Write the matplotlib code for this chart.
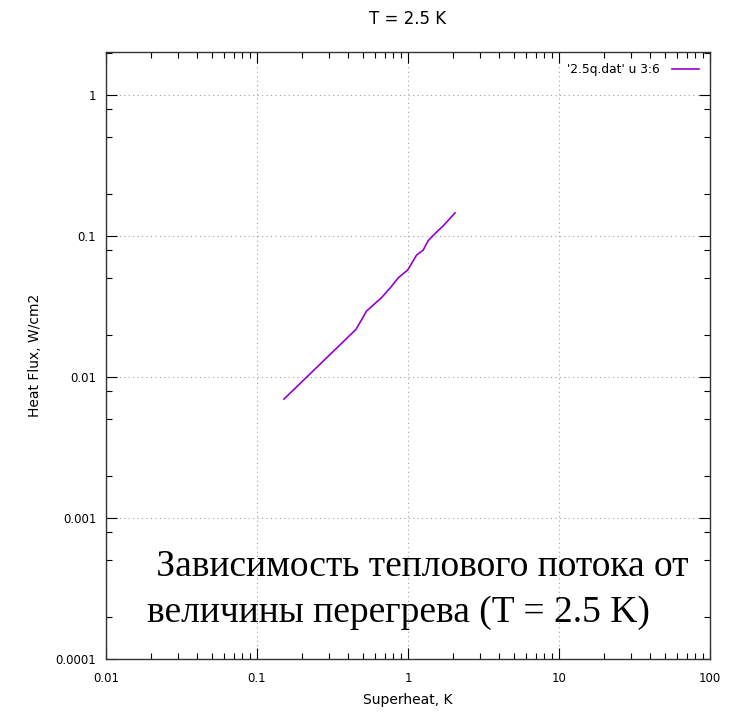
import numpy as np
import matplotlib.pyplot as plt
from matplotlib.ticker import LogLocator, FuncFormatter, NullFormatter

# superheat (K) vs heat flux (W/cm2)
superheat = [0.151, 0.453, 0.532, 0.670, 0.767, 0.863, 0.995, 1.14, 1.26, 1.36, 1.55, 1.71, 2.05]
heat_flux = [0.00698, 0.0218, 0.0294, 0.0367, 0.0432, 0.0506, 0.0574, 0.0733, 0.0794, 0.0927, 0.107, 0.118, 0.146]

fig = plt.figure(figsize=(7.35, 7.12), dpi=100)
ax = fig.add_axes([106 / 735, 1 - 659 / 712, 604 / 735, 607 / 712])

ax.plot(superheat, heat_flux, color='#9400d3', lw=1.2, label="'2.5q.dat' u 3:6")

ax.set_xscale('log')
ax.set_yscale('log')
ax.set_xlim(0.01, 100)
ax.set_ylim(1e-4, 2.02)

fmt = FuncFormatter(lambda v, p: '%g' % v)
ax.xaxis.set_major_locator(LogLocator(base=10, numticks=10))
ax.yaxis.set_major_locator(LogLocator(base=10, numticks=10))
ax.xaxis.set_minor_locator(LogLocator(base=10, subs=np.arange(2, 10), numticks=20))
ax.yaxis.set_minor_locator(LogLocator(base=10, subs=[2, 5, 8], numticks=20))
ax.xaxis.set_major_formatter(fmt)
ax.yaxis.set_major_formatter(fmt)
ax.xaxis.set_minor_formatter(NullFormatter())
ax.yaxis.set_minor_formatter(NullFormatter())

ax.tick_params(which='both', direction='in', top=True, right=True, labelsize=8.5, width=0.8)
ax.tick_params(which='major', length=8)
ax.tick_params(axis='x', which='major', pad=9)
ax.tick_params(axis='y', which='major', pad=7)
ax.tick_params(which='minor', length=4)
for s in ax.spines.values():
    s.set_linewidth(1.0)
    s.set_color('#333333')

ax.grid(True, which='major', linestyle=(0, (1, 3)), color='#a0a0a0', lw=0.8)

ax.set_xlabel('Superheat, K', fontsize=10, labelpad=6)
ax.set_ylabel('Heat Flux, W/cm2', fontsize=10, labelpad=10)
ax.set_title('T = 2.5 K', fontsize=12, pad=20)

ax.legend(loc='upper right', frameon=False, markerfirst=False, fontsize=8.8,
          handlelength=2.2, handletextpad=1.0, borderaxespad=0.5)

fig.text(147 / 735, 1 - 550 / 712, ' Зависимость теплового потока от\nвеличины перегрева (T = 2.5 K)',
         family='Liberation Serif', fontsize=27, ha='left', va='top', linespacing=1.4)

fig.savefig('out.png', dpi=100)
